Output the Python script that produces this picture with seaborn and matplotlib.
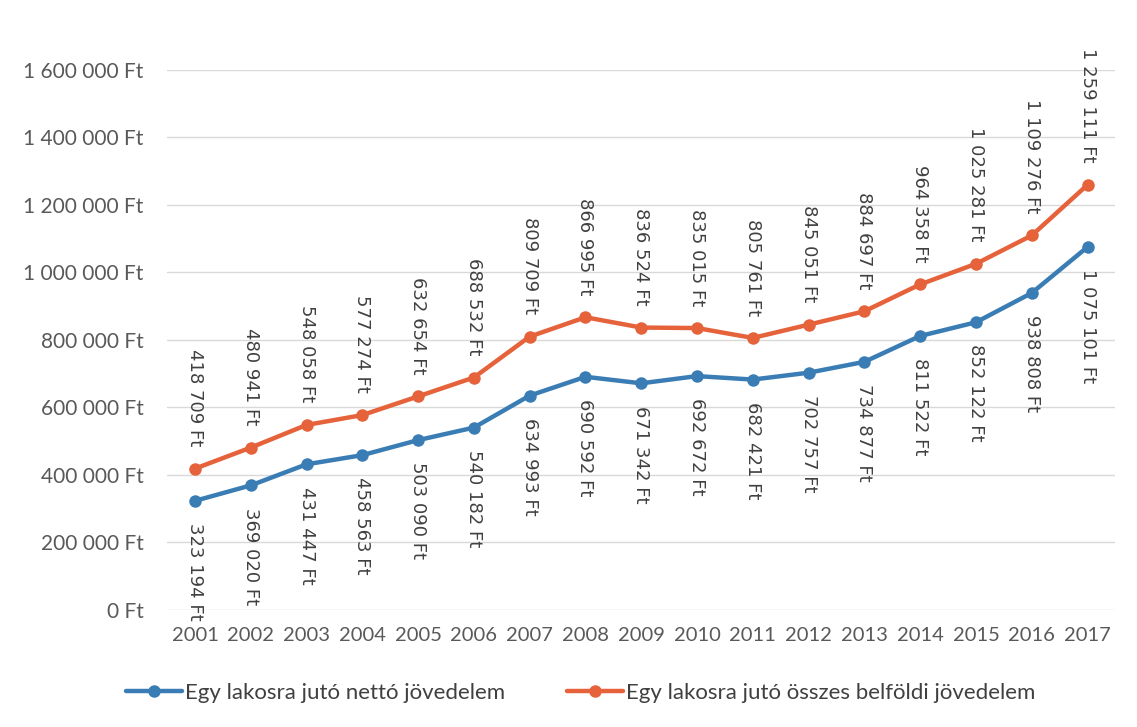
import matplotlib
matplotlib.use("Agg")
import matplotlib.pyplot as plt
from matplotlib.ticker import FuncFormatter, MultipleLocator
import seaborn as sns
import pandas as pd

years = list(range(2001, 2018))
netto = [323194, 369020, 431447, 458563, 503090, 540182, 634993, 690592, 671342,
         692672, 682421, 702757, 734877, 811522, 852122, 938808, 1075101]
osszes = [418709, 480941, 548058, 577274, 632654, 688532, 809709, 866995, 836524,
          835015, 805761, 845051, 884697, 964358, 1025281, 1109276, 1259111]
series_names = ["Egy lakosra jutó nettó jövedelem",
                "Egy lakosra jutó összes belföldi jövedelem"]
colors = ["#3a7db5", "#e5623a"]


def ft(v):
    return f"{int(round(v)):,}".replace(",", " ") + " Ft"


df = pd.DataFrame({
    "év": years * 2,
    "érték": netto + osszes,
    "sorozat": [series_names[0]] * len(years) + [series_names[1]] * len(years),
})

sns.set_theme(style="white")
plt.rcParams["font.family"] = ["Lato", "DejaVu Sans"]

fig = plt.figure(figsize=(11.37, 7.27), dpi=100)
ax = fig.add_axes([0.147, 0.161, 0.834, 0.743])

sns.lineplot(data=df, x="év", y="érték", hue="sorozat", palette=colors,
             marker="o", markersize=9, markeredgewidth=0, linewidth=3.2,
             sort=False, ax=ax, legend=False)

ax.set_xlim(2000.5, 2017.5)
ax.set_ylim(0, 1600000)
ax.yaxis.set_major_locator(MultipleLocator(200000))
ax.yaxis.set_major_formatter(FuncFormatter(lambda v, p: ft(v)))
ax.set_xticks(years)
ax.set_xticklabels([str(y) for y in years])
ax.set_xlabel("")
ax.set_ylabel("")
ax.grid(axis="y", color="#d9d9d9", linewidth=1)
ax.grid(axis="x", visible=False)
for s in ax.spines.values():
    s.set_visible(False)
ax.tick_params(axis="both", length=0, colors="#595959")
ax.tick_params(axis="y", pad=17, labelsize=15)
ax.tick_params(axis="x", pad=12, labelsize=14.5)

for x, v in zip(years, netto):
    ax.annotate(ft(v), (x, v), xytext=(0, -16), textcoords="offset points",
                rotation=-90, ha="center", va="top", fontsize=13,
                color="#404040", family="DejaVu Sans")
for x, v in zip(years, osszes):
    ax.annotate(ft(v), (x, v), xytext=(0, 16), textcoords="offset points",
                rotation=-90, ha="center", va="bottom", fontsize=13,
                color="#404040", family="DejaVu Sans")

handles = [plt.Line2D([], [], color=c, marker="o", markersize=9,
                      markeredgewidth=0, linewidth=3.2) for c in colors]
fig.legend(handles, series_names, loc="center", bbox_to_anchor=(0.511, 0.047),
           ncol=2, frameon=False, fontsize=16, handlelength=2.5,
           handletextpad=0.15, columnspacing=2.8, labelcolor="#404040")

fig.savefig("out.png", dpi=100, facecolor="white")
